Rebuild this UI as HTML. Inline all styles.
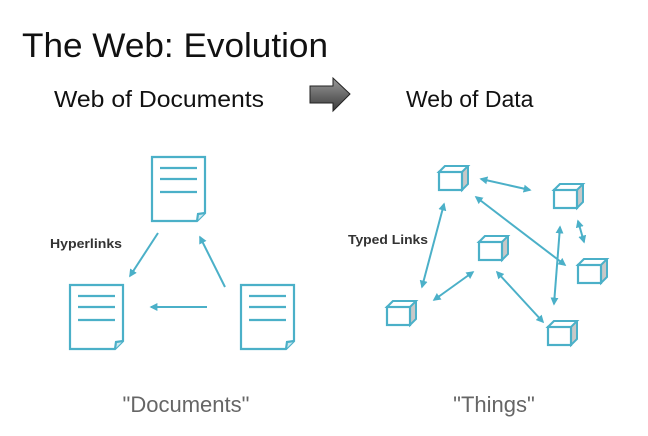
<!DOCTYPE html>
<html><head><style>
body{margin:0;width:648px;height:431px;background:#fff;overflow:hidden;font-family:"Liberation Sans",sans-serif}
</style></head><body>
<svg width="648" height="431" xmlns="http://www.w3.org/2000/svg">
<defs>
<linearGradient id="g" x1="0" y1="0" x2="0" y2="1"><stop offset="0" stop-color="#9a9a9a"/><stop offset="1" stop-color="#3a3a3a"/></linearGradient>
<marker id="a" viewBox="0 0 10 10" refX="8" refY="5" markerWidth="4" markerHeight="4" orient="auto-start-reverse"><path d="M0,0 L10,5 L0,10 z" fill="#4bb0c8"/></marker>
<g id="doc" fill="none" stroke="#4bb0c8" stroke-width="2.2">
<path d="M0,0 H53 V56 L45,64 H0 Z"/><path d="M45,64 L46,57 L53,56" fill="#cfe9f0"/>
<path d="M8,11 H45 M8,22 H45 M8,35 H45"/></g>
<g id="cube"><path d="M0,6 L6,0 H29 V18 L23,24 V6 Z" fill="#c8c8c8" stroke="#4bb0c8" stroke-width="2"/><path d="M0,6 L6,0 H29 L23,6 Z" fill="#fff" stroke="#4bb0c8" stroke-width="2"/><rect x="0" y="6" width="23" height="18" fill="#fff" stroke="#4bb0c8" stroke-width="2.2"/></g>
</defs>
<text x="22" y="57" font-size="34" fill="#111" textLength="306" lengthAdjust="spacingAndGlyphs">The Web: Evolution</text>
<text x="54" y="107" font-size="23" fill="#111" textLength="210" lengthAdjust="spacingAndGlyphs">Web of Documents</text>
<text x="406" y="107" font-size="23" fill="#111">Web of Data</text>
<path d="M310,86 H333 V78 L350,94 L333,111 V103 H310 Z" fill="url(#g)" stroke="#222" stroke-width="1"/>
<use href="#doc" x="152" y="157"/>
<use href="#doc" x="70" y="285"/>
<use href="#doc" x="241" y="285"/>
<g stroke="#4bb0c8" stroke-width="2" fill="none">
<line x1="158" y1="233" x2="130" y2="276" marker-end="url(#a)"/>
<line x1="225" y1="287" x2="200" y2="237" marker-end="url(#a)"/>
<line x1="207" y1="307" x2="151" y2="307" marker-end="url(#a)"/>
<line x1="481" y1="179" x2="530" y2="190" marker-start="url(#a)" marker-end="url(#a)"/>
<line x1="476" y1="197" x2="565" y2="265" marker-start="url(#a)" marker-end="url(#a)"/>
<line x1="444" y1="204" x2="422" y2="287" marker-start="url(#a)" marker-end="url(#a)"/>
<line x1="578" y1="221" x2="584" y2="242" marker-start="url(#a)" marker-end="url(#a)"/>
<line x1="560" y1="227" x2="554" y2="304" marker-start="url(#a)" marker-end="url(#a)"/>
<line x1="473" y1="272" x2="434" y2="300" marker-start="url(#a)" marker-end="url(#a)"/>
<line x1="497" y1="272" x2="543" y2="322" marker-start="url(#a)" marker-end="url(#a)"/>
</g>
<use href="#cube" x="439" y="166"/>
<use href="#cube" x="554" y="184"/>
<use href="#cube" x="479" y="236"/>
<use href="#cube" x="578" y="259"/>
<use href="#cube" x="387" y="301"/>
<use href="#cube" x="548" y="321"/>
<text x="50" y="248" font-size="13" font-weight="bold" fill="#333" textLength="72" lengthAdjust="spacingAndGlyphs">Hyperlinks</text>
<text x="348" y="244" font-size="13" font-weight="bold" fill="#333" textLength="80" lengthAdjust="spacingAndGlyphs">Typed Links</text>
<text x="186" y="412" font-size="22" fill="#666" text-anchor="middle">"Documents"</text>
<text x="494" y="412" font-size="22" fill="#666" text-anchor="middle">"Things"</text>
</svg>
</body></html>
